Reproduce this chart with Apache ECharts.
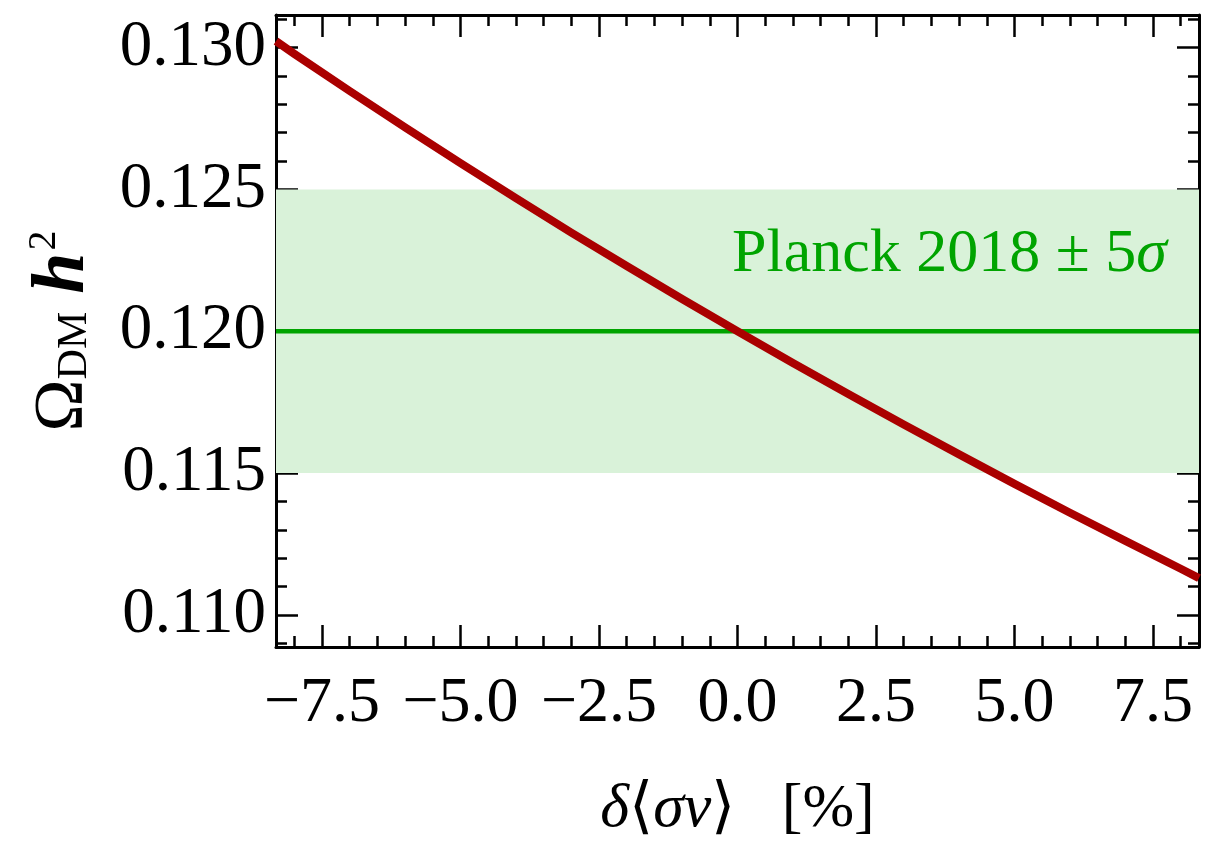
<!DOCTYPE html>
<html>
<head>
<meta charset="utf-8">
<script src="https://cdn.jsdelivr.net/npm/echarts@6/dist/echarts.min.js"></script>
<style>html,body{margin:0;padding:0;background:#fff}#c{width:1211px;height:846px}</style>
</head>
<body>
<div id="c"></div>
<script>
// ---- data ----
const delta = [-8.33, -8, -7, -6, -5, -4, -3, -2, -1, 0, 1, 2, 3, 4, 5, 6, 7, 8, 8.33];
const omega = [0.13023, 0.12978, 0.12847, 0.12719, 0.12593, 0.12469, 0.12348, 0.12230, 0.12114, 0.12000,
               0.11888, 0.11779, 0.11671, 0.11566, 0.11462, 0.11360, 0.11261, 0.11163, 0.11130];
const planckCentral = 0.120;
const planckBand = [0.115, 0.125];
const xRange = [-8.33, 8.33];
const yRange = [0.10887, 0.13115];
const xMajorTicks = [-7.5, -5.0, -2.5, 0.0, 2.5, 5.0, 7.5];
const xMinorTicks = [-8, -7, -6.5, -6, -5.5, -4.5, -4, -3.5, -3, -2, -1.5, -1, -0.5, 0.5, 1, 1.5, 2, 3, 3.5, 4, 4.5, 5.5, 6, 6.5, 7, 8];
const yMajorTicks = [0.110, 0.115, 0.120, 0.125, 0.130];
const yMinorTicks = [0.109, 0.111, 0.112, 0.113, 0.114, 0.116, 0.117, 0.118, 0.119, 0.121, 0.122, 0.123, 0.124, 0.126, 0.127, 0.128, 0.129, 0.131];
const bandLabel = 'Planck 2018 ± 5';

const FONT = '"Liberation Serif", "Times New Roman", serif';
const chart = echarts.init(document.getElementById('c'), null, {renderer: 'canvas'});

function xAx(pos, ticks, len, withLabel, showLine) {
  return {
    type: 'value', position: pos, min: xRange[0], max: xRange[1],
    splitLine: {show: false},
    axisLine: {show: showLine, onZero: false, lineStyle: {color: '#000', width: 3}},
    axisTick: {show: true, inside: true, length: len, customValues: ticks, lineStyle: {color: '#000', width: 2.5}},
    axisLabel: {show: withLabel, customValues: ticks, margin: 25, fontFamily: FONT, fontSize: 64, color: '#000',
      formatter: v => v.toFixed(1).replace('-', '\u2212')},
    name: withLabel ? '{i|\u03b4}{n|\u27e8}{i|\u03c3v}{n|\u27e9   [%]}' : '',
    nameLocation: 'middle', nameGap: 132,
    nameTextStyle: {fontFamily: FONT, fontSize: 62, color: '#000',
      rich: {i: {fontFamily: FONT, fontStyle: 'italic', fontSize: 62, color: '#000'},
             n: {fontFamily: FONT, fontSize: 62, color: '#000'}}}
  };
}
function yAx(pos, ticks, len, withLabel, showLine) {
  return {
    type: 'value', position: pos, min: yRange[0], max: yRange[1],
    splitLine: {show: false},
    axisLine: {show: showLine, onZero: false, lineStyle: {color: '#000', width: 3}},
    axisTick: {show: true, inside: true, length: len, customValues: ticks, lineStyle: {color: '#000', width: 2.5}},
    axisLabel: {show: withLabel, customValues: ticks, margin: 10, fontFamily: FONT, fontSize: 65, color: '#000',
      formatter: v => v.toFixed(3)},
    name: withLabel ? '{o|\u03a9}{s|DM}{h|h}{p|2}' : '',
    nameLocation: 'middle', nameRotate: 90, nameGap: 172,
    nameTextStyle: {fontFamily: FONT, fontSize: 70, color: '#000', lineHeight: 80,
      rich: {o: {fontFamily: FONT, fontSize: 70, color: '#000', lineHeight: 80},
             s: {fontFamily: FONT, fontSize: 42, color: '#000', lineHeight: 42, verticalAlign: 'bottom', padding: [0, 0, 8, 0]},
             h: {fontFamily: FONT, fontStyle: 'italic', fontWeight: 'bold', fontSize: 74, color: '#000', lineHeight: 80, padding: [0, 0, 0, 18]},
             p: {fontFamily: FONT, fontSize: 40, color: '#000', lineHeight: 24, verticalAlign: 'top', padding: [0, 0, 0, 2]}}}
  };
}

const option = {
  backgroundColor: '#fff',
  animation: false,
  grid: {left: 276, right: 12, top: 15, bottom: 185, containLabel: false},
  xAxis: [
    xAx('bottom', xMajorTicks, 22, true, true),
    xAx('bottom', xMinorTicks, 11, false, false),
    xAx('top', xMajorTicks, 22, false, true),
    xAx('top', xMinorTicks, 11, false, false)
  ],
  yAxis: [
    yAx('left', yMajorTicks, 22, true, true),
    yAx('left', yMinorTicks, 11, false, false),
    yAx('right', yMajorTicks, 22, false, true),
    yAx('right', yMinorTicks, 11, false, false)
  ],
  series: [
    {
      type: 'line', xAxisIndex: 0, yAxisIndex: 0, z: 2,
      data: [[xRange[0], planckCentral], [xRange[1], planckCentral]],
      showSymbol: false, lineStyle: {color: '#00a400', width: 4.5},
      markArea: {silent: true, itemStyle: {color: '#d9f2d9', opacity: 1},
        data: [[{yAxis: planckBand[0]}, {yAxis: planckBand[1]}]]}
    },
    {
      type: 'line', xAxisIndex: 0, yAxisIndex: 0, z: 3,
      data: delta.map((d, i) => [d, omega[i]]),
      smooth: false, showSymbol: false, clip: true,
      lineStyle: {color: '#aa0000', width: 8, join: 'round'}
    }
  ],
  graphic: [{
    type: 'text', left: 732, top: 224, z: 10,
    style: {text: '{a|' + bandLabel + '}{b|\u03c3}', fill: '#00a400',
      rich: {a: {fontFamily: FONT, fontSize: 62, fill: '#00a400', color: '#00a400'},
             b: {fontFamily: FONT, fontStyle: 'italic', fontSize: 62, fill: '#00a400', color: '#00a400'}}}
  }]
};
chart.setOption(option);
</script>
</body>
</html>
